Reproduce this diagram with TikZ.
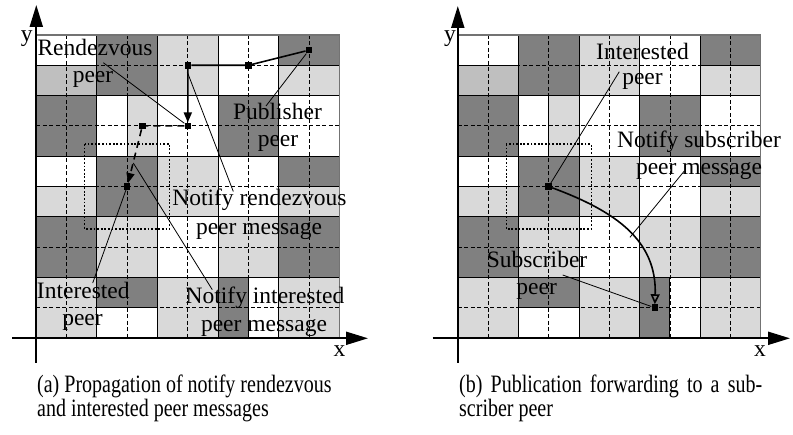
\documentclass[tikz,border=0pt]{standalone}
\usepackage{fontspec}
\setmainfont{Liberation Serif}
\newfontfamily\capfont{Liberation Serif}[FakeStretch=0.8]
\usetikzlibrary{arrows.meta}
\definecolor{zd}{gray}{0.5}
\definecolor{zl}{gray}{0.85}
\definecolor{zm}{gray}{0.75}
\tikzset{
  lbl/.style={font=\fontsize{23.5}{27}\selectfont, anchor=base, inner sep=0pt},
  captext/.style={font=\capfont\fontsize{25}{27}\selectfont, anchor=base west, inner sep=0pt},
  peer/.style={rectangle, fill=black, draw=none, minimum size=6.5pt, inner sep=0pt},
  msg/.style={line width=1.6pt, -{Triangle[length=10pt,width=8pt]}},
  dmsg/.style={msg, dash pattern=on 7pt off 5pt},
  cmsg/.style={line width=1.6pt, -{Triangle[open,length=10pt,width=9pt]}},
  leader/.style={line width=0.8pt},
  axisline/.style={line width=2pt, -{Triangle[length=22pt,width=13pt]}},
  zoneline/.style={line width=0.9pt},
  fineline/.style={line width=0.8pt, dash pattern=on 4pt off 2.5pt},
  region/.style={line width=1.2pt, dash pattern=on 1.8pt off 1.8pt},
  outer/.style={line width=1.2pt, draw=black!55},
}
\def\zonelist{%
  \zn{0}{0}{2}{1}{white}\zn{0}{1}{2}{2}{zm}\zn{2}{0}{4}{2}{zd}\zn{4}{0}{6}{2}{zl}%
  \zn{6}{0}{8}{2}{white}\zn{8}{0}{10}{1}{zd}\zn{8}{1}{10}{2}{zl}%
  \zn{0}{2}{2}{4}{zd}\zn{2}{2}{3}{4}{white}\zn{3}{2}{4}{4}{zl}\zn{4}{2}{6}{4}{white}%
  \zn{6}{2}{8}{4}{zd}\zn{8}{2}{10}{4}{white}%
  \zn{0}{4}{2}{5}{white}\zn{0}{5}{2}{6}{zl}\zn{2}{4}{4}{6}{zd}\zn{4}{4}{6}{6}{zl}%
  \zn{6}{4}{8}{6}{white}\zn{8}{4}{10}{5}{zd}\zn{8}{5}{10}{6}{zl}%
  \zn{0}{6}{2}{8}{zd}\zn{2}{6}{4}{8}{zl}\zn{4}{6}{6}{8}{white}\zn{6}{6}{8}{8}{zl}\zn{8}{6}{10}{8}{zd}%
  \zn{0}{8}{2}{10}{zl}\zn{2}{8}{4}{9}{zd}\zn{2}{9}{4}{10}{white}\zn{4}{8}{6}{10}{zl}%
  \zn{6}{8}{7}{10}{zd}\zn{7}{8}{8}{10}{white}\zn{8}{8}{10}{10}{zl}%
}
\def\gridpanel{%
  \def\zn##1##2##3##4##5{\fill[##5] (##1,##2) rectangle (##3,##4);}%
  \zonelist
  \foreach \k in {1,3,5,7,9} {\draw[fineline] (\k,0) -- (\k,10); \draw[fineline] (0,\k) -- (10,\k);}
  \def\zn##1##2##3##4##5{\draw[zoneline] (##1,##2) rectangle (##3,##4);}%
  \zonelist
  \draw[outer] (0,0) rectangle (10,10);
  \draw[region] (1.6,3.6) rectangle (4.4,6.4);
}
\begin{document}
\begin{tikzpicture}[x=1pt,y=-1pt]
\useasboundingbox (0,0) rectangle (793,435);
\fill[white] (0,0) rectangle (793,435);
% ---------------- panel (a)
\begin{scope}[shift={(36.3,35)}, x=30.3pt, y=-30.3pt]
  \gridpanel
  \node[peer] (apub) at (9,0.5) {};
  \node[peer] (an2) at (7,1) {};
  \node[peer] (an3) at (5,1) {};
  \node[peer] (ardv) at (5,3) {};
  \node[peer] (amid) at (3.5,3) {};
  \node[peer] (aint) at (3,5) {};
\end{scope}
\draw[msg] (apub) -- (an2) -- (an3) -- (ardv);
\draw[dmsg] (ardv) -- (amid) -- (aint);
\coordinate (aax0) at (12,338.3); \coordinate (aax1) at (368,338.3);
\coordinate (aay0) at (36.3,363); \coordinate (aay1) at (36.3,5);
\draw[axisline] (aax0) -- (aax1);
\draw[axisline] (aay0) -- (aay1);
\node[lbl] (ay) at (26.7,42) {y};
\node[lbl] (ax) at (339.5,356.7) {x};
\node[lbl] (lrdv1) at (95,56) {Rendezvous};
\node[lbl] (lrdv2) at (93,83) {peer};
\node[lbl] (lpub1) at (277.5,120) {Publisher};
\node[lbl] (lpub2) at (278,146.5) {peer};
\node[lbl] (lnr1) at (259.5,206) {Notify rendezvous};
\node[lbl] (lnr2) at (259,234.5) {peer message};
\node[lbl] (lni1) at (265,304) {Notify interested};
\node[lbl] (lni2) at (264,331.5) {peer message};
\node[lbl] (lai1) at (83.3,298.3) {Interested};
\node[lbl] (lai2) at (82.5,325.7) {peer};
\coordinate (aLr) at (103.3,62.7);
\coordinate (aLp) at (266,106);
\coordinate (aLnrA) at (187.3,72);
\coordinate (aLnrB) at (233.3,191.5);
\coordinate (aLniA) at (133.3,163);
\coordinate (aLniB) at (212.3,289.7);
\coordinate (aLi) at (92.7,283);
\draw[leader] (aLr) -- (ardv);
\draw[leader] (aLp) -- (apub);
\draw[leader] (aLnrA) -- (aLnrB);
\draw[leader] (aLniA) -- (aLniB);
\draw[leader] (aLi) -- (aint);
% ---------------- panel (b)
\begin{scope}[shift={(457.8,35)}, x=30.3pt, y=-30.3pt]
  \gridpanel
  \node[peer] (bint) at (3,5) {};
  \node[peer] (bsub) at (6.5,9) {};
\end{scope}
\draw[cmsg] (bint) .. controls (615,211) and (657,240) .. (bsub);
\coordinate (bax0) at (432.7,338.3); \coordinate (bax1) at (790,338.3);
\coordinate (bay0) at (457.8,363); \coordinate (bay1) at (457.8,6);
\draw[axisline] (bax0) -- (bax1);
\draw[axisline] (bay0) -- (bay1);
\node[lbl] (by) at (450,42) {y};
\node[lbl] (bx) at (760,356.7) {x};
\node[lbl] (lbi1) at (642.5,59.3) {Interested};
\node[lbl] (lbi2) at (642.5,85) {peer};
\node[lbl] (lns1) at (699,147.7) {Notify subscriber};
\node[lbl] (lns2) at (699,174.3) {peer message};
\node[lbl] (lbs1) at (537,267.7) {Subscriber};
\node[lbl] (lbs2) at (536.7,295) {peer};
\coordinate (bLi) at (619.3,71.7);
\coordinate (bLnsA) at (684.3,171);
\coordinate (bLnsB) at (630,237.3);
\coordinate (bLs) at (562.7,275);
\draw[leader] (bLi) -- (bint);
\draw[leader] (bLnsA) -- (bLnsB);
\draw[leader] (bLs) -- (bsub);
% ---------------- captions
\node[captext] (capa1) at (37,393) {(a) Propagation of notify rendezvous};
\node[captext] (capa2) at (37,417) {and interested peer messages};
\node[captext] (capb1) at (459,393) {\makebox[303pt][s]{(b) Publication forwarding to a sub-}};
\node[captext] (capb2) at (459,417) {scriber peer};
\end{tikzpicture}
\end{document}
